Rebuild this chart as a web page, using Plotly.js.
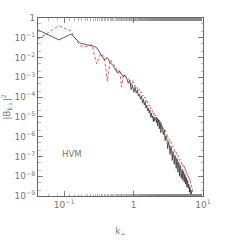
<!DOCTYPE html>
<html><head><meta charset="utf-8">
<script src="https://cdn.plot.ly/plotly-3.0.1.min.js"></script>
<style>html,body{margin:0;padding:0;background:#fff;}#c{width:249px;height:251px;}</style>
</head><body><div id="c"></div>
<script>
// mode numbers and wavenumber step
const dk = 0.0419;
const modes = [1,2,3,4,5,6,7,8,9,10,11,12,13,14,15,16,17,18,19,20,21,22,23,24,25,26,27,28,29,30,
31,32,33,34,35,36,37,38,39,40,41,42,43,44,45,46,47,48,49,50,51,52,53,54,55,56,57,58,59,60,
62,64,66,68,70,72,74,76,78,80,82,84,86,88,90,92,94,96,98,100,102,104,106,108,110,112,114,116,118,120,
122,124,126,128,130,132,134,136,138,140,142,144,146,148,150,152,154,156,158,160,162,164,166,168,170,172,174];
// spectrum (black, solid)
const specBlack = [2.5e-1,7.8e-2,1.55e-1,5.5e-2,4.4e-2,4.0e-2,3.2e-2,1.4e-2,7.6e-3,1.0e-2,5.6e-3,4.0e-3,2.5e-3,1.66e-3,2.0e-3,1.38e-3,1.12e-3,1.26e-3,8.9e-4,5.0e-4,
7.1e-4,2.4e-4,4.0e-4,1.78e-4,3.2e-4,1.58e-4,2.2e-4,1.12e-4,1.41e-4,7.9e-5,1.12e-4,5.0e-5,7.9e-5,4.0e-5,5.6e-5,2.8e-5,4.0e-5,2.0e-5,2.8e-5,1.58e-5,
2.2e-5,1.0e-5,1.58e-5,8.9e-6,1.12e-5,5.6e-6,1.0e-5,6.3e-6,8.9e-6,7.9e-6,5.0e-6,8.9e-6,3.5e-6,7.1e-6,6.3e-6,2.5e-6,5.6e-6,4.5e-6,1.58e-6,4.0e-6,
2.8e-6,1.26e-6,2.2e-6,6.3e-7,1.12e-6,7.9e-7,2.5e-7,5.6e-7,4.0e-7,1.26e-7,3.2e-7,2.5e-7,6.3e-8,1.78e-7,1.41e-7,4.0e-8,1.12e-7,8.9e-8,2.5e-8,7.9e-8,
6.3e-8,1.58e-8,5.0e-8,4.5e-8,1.0e-8,3.5e-8,2.8e-8,7.9e-9,2.2e-8,2.2e-8,6.3e-9,1.78e-8,1.58e-8,5.0e-9,1.26e-8,1.12e-8,4.0e-9,8.9e-9,7.9e-9,2.8e-9,
6.3e-9,5.6e-9,2.5e-9,4.0e-9,3.5e-9,1.58e-9,2.8e-9,2.5e-9,1.0e-9,2.0e-9,1.58e-9,7.9e-10,1.26e-9,1.0e-9,6.3e-10,7.9e-10,5.0e-10];
// spectrum (red, dashed)
const specRed = [8.7e-2,4.0e-1,2.2e-1,3.9e-2,3.5e-2,4.4e-2,4.8e-3,1.58e-2,1.12e-2,6.3e-4,7.9e-3,5.0e-3,3.5e-3,1.78e-3,2.5e-3,3.2e-4,1.41e-3,1.12e-3,1.0e-3,8.9e-4,
6.3e-4,3.5e-4,7.1e-4,5.0e-4,3.5e-4,4.0e-4,2.8e-4,2.0e-4,2.5e-4,1.58e-4,1.78e-4,1.12e-4,1.26e-4,8.9e-5,1.0e-4,5.6e-5,7.1e-5,5.0e-5,5.0e-5,3.5e-5,
4.0e-5,2.5e-5,2.8e-5,2.0e-5,2.0e-5,1.26e-5,1.58e-5,1.12e-5,1.26e-5,8.9e-6,1.0e-5,7.9e-6,8.9e-6,6.3e-6,5.6e-6,7.1e-6,5.6e-6,6.3e-6,5.0e-6,4.0e-6,
3.2e-6,2.8e-6,2.0e-6,2.2e-6,1.58e-6,1.41e-6,1.0e-6,8.9e-7,6.3e-7,7.1e-7,4.5e-7,4.5e-7,3.2e-7,3.5e-7,2.5e-7,2.2e-7,1.78e-7,2.0e-7,1.41e-7,1.41e-7,
1.0e-7,1.12e-7,7.9e-8,8.9e-8,6.3e-8,7.1e-8,5.0e-8,5.6e-8,4.0e-8,4.5e-8,3.2e-8,3.5e-8,2.8e-8,3.2e-8,2.2e-8,2.5e-8,1.78e-8,2.0e-8,1.41e-8,1.58e-8,
1.12e-8,1.26e-8,8.9e-9,1.0e-8,7.1e-9,7.9e-9,5.6e-9,6.3e-9,4.5e-9,4.5e-9,3.2e-9,3.2e-9,2.2e-9,2.2e-9,1.58e-9,1.41e-9,1.0e-9];
const yTickVals = [1,1e-1,1e-2,1e-3,1e-4,1e-5,1e-6,1e-7,1e-8,1e-9];
const yTickText = ['1','10<sup>−1</sup>','10<sup>−2</sup>','10<sup>−3</sup>','10<sup>−4</sup>','10<sup>−5</sup>','10<sup>−6</sup>','10<sup>−7</sup>','10<sup>−8</sup>','10<sup>−9</sup>'];
const xTickVals = [0.1,1,10];
const xTickText = ['10<sup>−1</sup>','1','10<sup>1</sup>'];

const k = modes.map(n => n*dk);
const labelFont = {family:'DejaVu Sans, sans-serif', size:9, color:'#777'};
const traces = [
  {x:k, y:specRed, mode:'lines', line:{color:'#e03a3a', width:0.8, dash:'3px,2px'}, hoverinfo:'skip'},
  {x:k, y:specBlack, mode:'lines', line:{color:'#333', width:0.8}, hoverinfo:'skip'}
];
const axisCommon = {type:'log', showgrid:false, zeroline:false, showline:true, linecolor:'#666', linewidth:1,
  mirror:'allticks', ticks:'inside', ticklen:5, tickcolor:'#666', tickwidth:0.8, tickfont:labelFont,
  minor:{ticks:'inside', ticklen:2.5, tickcolor:'#888', tickwidth:0.6}};
const layout = {
  width:249, height:251, margin:{l:38, r:46, t:18, b:55}, showlegend:false,
  paper_bgcolor:'#fff', plot_bgcolor:'#fff',
  xaxis: Object.assign({}, axisCommon, {range:[Math.log10(dk), 1], tickmode:'array', tickvals:xTickVals, ticktext:xTickText,
    title:{text:'k<sub>⊥</sub>', font:labelFont, standoff:18}}),
  yaxis: Object.assign({}, axisCommon, {range:[-9, 0], tickmode:'array', tickvals:yTickVals, ticktext:yTickText,
    title:{text:'|B<sub>k⊥</sub>|<sup>2</sup>', font:labelFont, standoff:2}}),
  annotations:[{x:Math.log10(0.131), y:-6.87, xref:'x', yref:'y', text:'HVM', showarrow:false, font:{family:'DejaVu Sans, sans-serif', size:8.5, color:'#777'}}]
};
Plotly.newPlot('c', traces, layout, {staticPlot:true, displayModeBar:false});
</script></body></html>
